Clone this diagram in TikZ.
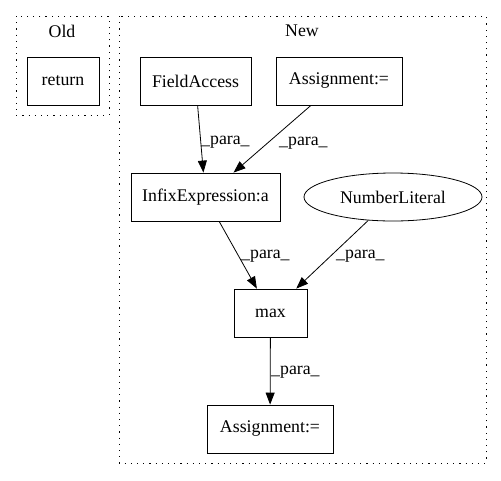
\documentclass[tikz,border=0pt]{standalone}
\usepackage{fontspec}
\setmainfont{Liberation Serif}
\usetikzlibrary{arrows.meta,shapes.geometric}

\begin{document}
\begin{tikzpicture}[
    x=1pt, y=-1pt,
    every node/.style={
      font=\fontsize{17.8}{20}\selectfont
    },
    box/.style={
      rectangle, draw, line width=0.8pt, inner sep=0pt,
      minimum height=48pt
    },
    cluster/.style={
      draw, line width=1pt, dash pattern=on 1.2pt off 5pt
    },
    lbl/.style={
      anchor=west, inner sep=0pt
    },
    para/.style={
      -{Triangle[length=12pt,width=9pt]}, line width=0.8pt
    }
    ]
  \useasboundingbox (0,0) rectangle (501,480);
  \draw[cluster] (16,16) rectangle (109,115);
  \draw[cluster] (119,16) rectangle (486,463);
  \node (old) at (62,31) {Old};
  \node (new) at (302,31) {New};
  \node[box, minimum width=72pt] (ret) at (63,81) {return};
  \node[box, minimum width=111pt] (fa) at (195.5,81) {FieldAccess};
  \node[box, minimum width=126pt] (asg) at (339,81) {Assignment:=};
  \node[box, minimum width=149pt] (infix) at (205.5,197) {InfixExpression:a};
  \node[ellipse, draw, line width=0.8pt, inner sep=0pt,
    minimum width=178pt, minimum height=48pt] (num) at (393,197) {NumberLiteral};
  \node[box, minimum width=73pt] (max) at (270.5,313) {max};
  \node[box, minimum width=126pt] (asgb) at (270,429) {Assignment:=};
  \draw[para] (fa) -- (infix);
  \draw[para] (asg) -- (infix);
  \draw[para] (infix) -- (max);
  \draw[para] (num) -- (max);
  \draw[para] (max) -- (asgb);
  \node[lbl] (l1) at (201,142) {\_para\_};
  \node[lbl] (l2) at (279,143) {\_para\_};
  \node[lbl] (l3) at (241,256) {\_para\_};
  \node[lbl] (l4) at (336,256) {\_para\_};
  \node[lbl] (l5) at (271,372) {\_para\_};
\end{tikzpicture}
\end{document}
